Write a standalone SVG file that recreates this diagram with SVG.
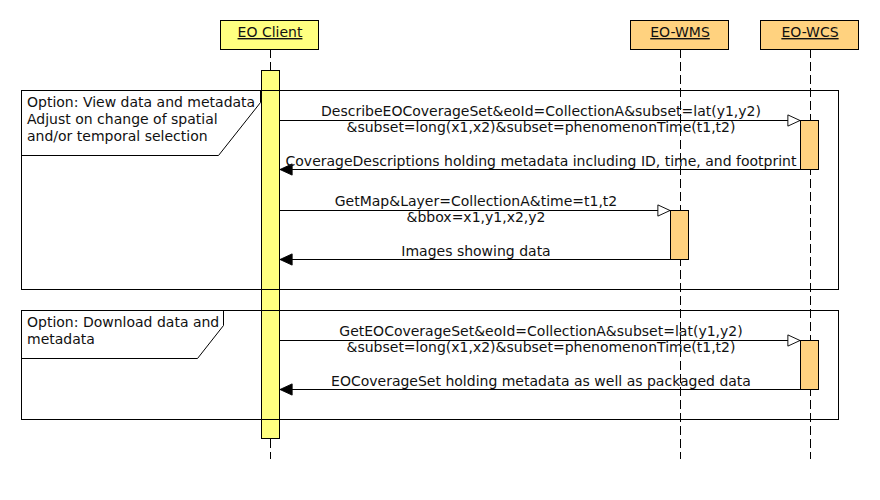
<svg xmlns="http://www.w3.org/2000/svg" width="880" height="500" viewBox="0 0 880 500">
<style>
text{font-family:"DejaVu Sans","Liberation Sans",sans-serif;font-size:14px;fill:#111}
.hdr{text-decoration:underline;text-anchor:middle}
.mid{text-anchor:middle}
.life{stroke:#000;stroke-width:1;stroke-dasharray:9,4;fill:none}
.msg{stroke:#000;stroke-width:1;fill:none}
.frame{stroke:#000;stroke-width:1;fill:none}
.cli{fill:#FFFF80;stroke:#000;stroke-width:1}
.srv{fill:#FFD27F;stroke:#000;stroke-width:1}
</style>
<defs>
<marker id="open" markerUnits="userSpaceOnUse" markerWidth="14" markerHeight="14" viewBox="-1 -1 15 14" refX="13" refY="6" orient="auto" overflow="visible">
<path d="M0,0 L13,6 L0,12 Z" fill="#fff" stroke="#000" stroke-width="1"/>
</marker>
<marker id="filled" markerUnits="userSpaceOnUse" markerWidth="14" markerHeight="14" viewBox="-1 -1 15 14" refX="13" refY="6" orient="auto" overflow="visible">
<path d="M0,0 L13,6 L0,12 Z" fill="#000" stroke="#000" stroke-width="1"/>
</marker>
</defs>
<rect width="880" height="500" fill="#fff"/>

<g id="lifelines">
<line class="life" x1="270.5" y1="49" x2="270.5" y2="459"/>
<line class="life" x1="680.5" y1="49" x2="680.5" y2="459"/>
<line class="life" x1="810.5" y1="49" x2="810.5" y2="459"/>
</g>

<g id="eo-client">
<rect class="cli" x="220.5" y="20.5" width="98" height="29"/>
<text class="hdr" x="270" y="37">EO Client</text>
<rect class="cli" x="261.5" y="70.5" width="18" height="368"/>
</g>
<g id="eo-wms">
<rect class="srv" x="630.5" y="20.5" width="98" height="29"/>
<text class="hdr" x="680" y="37">EO-WMS</text>
<rect class="srv" x="670.5" y="210.5" width="18" height="49"/>
</g>
<g id="eo-wcs">
<rect class="srv" x="760.5" y="20.5" width="98" height="29"/>
<text class="hdr" x="810" y="37">EO-WCS</text>
<rect class="srv" x="800.5" y="120.5" width="18" height="49"/>
<rect class="srv" x="800.5" y="340.5" width="18" height="49"/>
</g>

<g id="frame-view">
<rect class="frame" x="21.5" y="90.5" width="817" height="199"/>
<path class="frame" d="M21.5,155.5 L218.5,155.5 L260.5,102.5 L260.5,90.5"/>
<text x="27" y="107">Option: View data and metadata</text>
<text x="27" y="124">Adjust on change of spatial</text>
<text x="27" y="141">and/or temporal selection</text>
</g>
<g id="frame-download">
<rect class="frame" x="21.5" y="310.5" width="817" height="109"/>
<path class="frame" d="M21.5,358.5 L197.5,358.5 L223.5,325.5 L223.5,310.5"/>
<text x="27" y="327">Option: Download data and</text>
<text x="27" y="344">metadata</text>
</g>

<g id="connectors">
<line class="msg" x1="280" y1="120.5" x2="800" y2="120.5" marker-end="url(#open)"/>
<text class="mid" x="541" y="116">DescribeEOCoverageSet&amp;eoId=CollectionA&amp;subset=lat(y1,y2)</text>
<text class="mid" x="541" y="132">&amp;subset=long(x1,x2)&amp;subset=phenomenonTime(t1,t2)</text>
<line class="msg" x1="800" y1="169.5" x2="280" y2="169.5" marker-end="url(#filled)"/>
<text class="mid" x="541" y="166">CoverageDescriptions holding metadata including ID, time, and footprint</text>

<line class="msg" x1="280" y1="210.5" x2="670" y2="210.5" marker-end="url(#open)"/>
<text class="mid" x="476" y="206">GetMap&amp;Layer=CollectionA&amp;time=t1,t2</text>
<text class="mid" x="476" y="222">&amp;bbox=x1,y1,x2,y2</text>
<line class="msg" x1="670" y1="259.5" x2="280" y2="259.5" marker-end="url(#filled)"/>
<text class="mid" x="476" y="256">Images showing data</text>

<line class="msg" x1="280" y1="340.5" x2="800" y2="340.5" marker-end="url(#open)"/>
<text class="mid" x="541" y="336">GetEOCoverageSet&amp;eoId=CollectionA&amp;subset=lat(y1,y2)</text>
<text class="mid" x="541" y="352">&amp;subset=long(x1,x2)&amp;subset=phenomenonTime(t1,t2)</text>
<line class="msg" x1="800" y1="389.5" x2="280" y2="389.5" marker-end="url(#filled)"/>
<text class="mid" x="541" y="386">EOCoverageSet holding metadata as well as packaged data</text>
</g>
</svg>
